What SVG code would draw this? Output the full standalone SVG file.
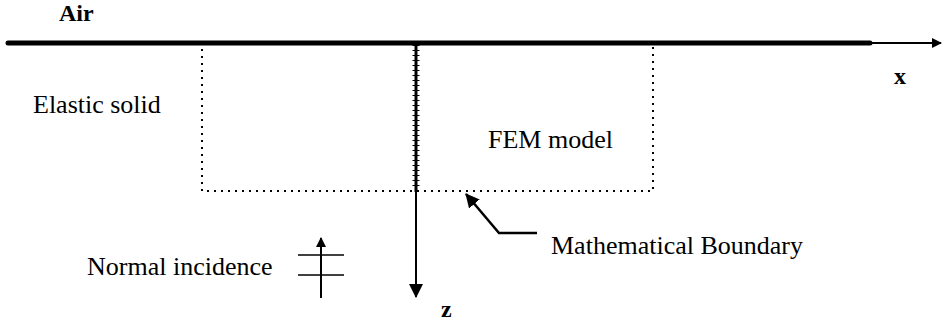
<svg xmlns="http://www.w3.org/2000/svg" width="942" height="324" viewBox="0 0 942 324">
<style>
.t{fill:#000;font-size:26px}
.b{font-weight:bold;font-size:24px}
.ax{stroke:#000;fill:none}
.dot{stroke:#000;fill:none;stroke-width:2;stroke-dasharray:2 5}
</style>
<defs>
<marker id="ah" viewBox="0 0 10 10" refX="9" refY="5" markerWidth="10" markerHeight="10" markerUnits="userSpaceOnUse" orient="auto">
<path d="M0,0 L10,5 L0,10 Z" fill="#000"/>
</marker>
<marker id="ah2" viewBox="0 0 14 14" refX="13" refY="7" markerWidth="14" markerHeight="14" markerUnits="userSpaceOnUse" orient="auto">
<path d="M0,0 L14,7 L0,14 Z" fill="#000"/>
</marker>
</defs>
<rect width="942" height="324" fill="#fff"/>
<g font-family="Liberation Serif, Times New Roman, serif">
<g id="fem-model">
<rect class="dot" x="202" y="43" width="451" height="148"/>
<text class="t" x="488" y="148">FEM model</text>
</g>
<g id="air"><text class="t b" x="59" y="21">Air</text></g>
<g id="elastic-solid"><text class="t" x="33" y="113">Elastic solid</text></g>
<g id="x-label"><text class="t b" x="894" y="84">x</text></g>
<g id="z-label"><text class="t b" x="441" y="317">z</text></g>
<g id="math-boundary"><text class="t" x="551" y="254">Mathematical Boundary</text></g>
<g id="normal-incidence">
<text class="t" x="87" y="275">Normal incidence</text>
<line class="ax" x1="298" y1="255" x2="344" y2="255" stroke-width="1.5"/>
<line class="ax" x1="298" y1="275" x2="344" y2="275" stroke-width="1.5"/>
<line class="ax" x1="321" y1="298" x2="321" y2="238" stroke-width="2" marker-end="url(#ah)"/>
</g>
</g>
<g id="connectors">
<line class="ax" x1="8" y1="43" x2="870" y2="43" stroke-width="5" stroke-linecap="round"/>
<line class="ax" x1="868" y1="43" x2="941" y2="43" stroke-width="2" marker-end="url(#ah)"/>
<line class="ax" x1="416" y1="41" x2="416" y2="192" stroke-width="3"/>
<path class="ax" d="M416,45 V190" stroke-width="7" stroke-dasharray="1 4"/>
<line class="ax" x1="416" y1="190" x2="416" y2="297" stroke-width="2" marker-end="url(#ah2)"/>
<polyline class="ax" points="537,233 499,233 466,194" stroke-width="2.5" marker-end="url(#ah2)"/>
</g>
</svg>
